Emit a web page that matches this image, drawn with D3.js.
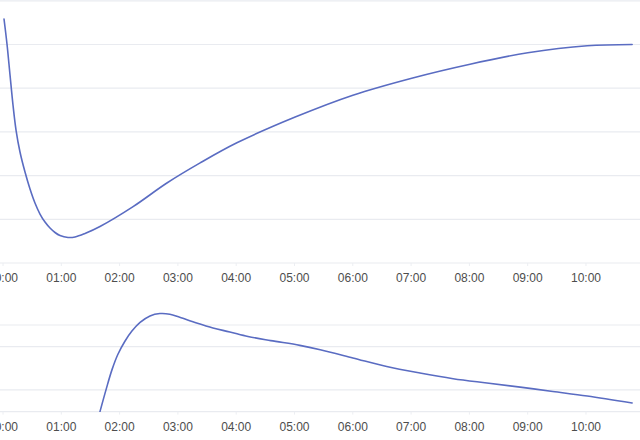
<!DOCTYPE html>
<html>
<head>
<meta charset="utf-8">
<script src="https://cdn.jsdelivr.net/npm/d3@7"></script>
<style>
html,body{margin:0;padding:0;background:#fff;overflow:hidden;}
svg{display:block;}
</style>
</head>
<body>
<svg id="chart" width="640" height="440"></svg>
<script>
// time in hours since 00:00
const hourTicks = [0,1,2,3,4,5,6,7,8,9,10];
const hourLabels = ["00:00","01:00","02:00","03:00","04:00","05:00","06:00","07:00","08:00","09:00","10:00"];

// top series
const topTimes  = [0.026,0.077,0.129,0.180,0.232,0.300,0.386,0.472,0.557,0.643,0.729,0.815,0.901,0.986,1.124,1.244,1.415,1.672,2.24,2.82,3.39,4.02,5.02,6.01,7.02,8.02,9.01,10.03,10.80];
const topValues = [5.584,5.011,4.302,3.616,3.043,2.540,2.082,1.693,1.373,1.121,0.938,0.801,0.698,0.629,0.584,0.595,0.675,0.835,1.29,1.83,2.29,2.75,3.34,3.84,4.23,4.55,4.81,4.97,5.00];
const topGrid = [0,1,2,3,4,5,6];

// bottom series
const botTimes  = [1.672,1.78,1.88,1.98,2.10,2.22,2.36,2.53,2.70,2.87,3.04,3.33,3.61,3.90,4.21,4.60,5.10,5.45,6.01,6.59,7.16,7.73,8.31,8.88,9.44,10.03,10.80];
const botValues = [0,1.05,1.95,2.65,3.25,3.72,4.12,4.42,4.53,4.50,4.36,4.09,3.86,3.68,3.47,3.28,3.06,2.86,2.48,2.08,1.78,1.52,1.32,1.13,0.93,0.72,0.40];
const botGrid = [0,1,3,4];

const svg = d3.select("#chart");
const W = 640;
const lineColor = "#5a6cc2";
const gridColor = "#e9ebf0";
const textColor = "#4d4d4d";

const x = d3.scaleLinear().domain([0, 10.935]).range([2.5, W]);

function panel(times, values, grid, yScale, clipId, clipTop, clipBottom) {
  const g = svg.append("g");
  g.selectAll("line.grid").data(grid).enter().append("line")
    .attr("x1", 0).attr("x2", W)
    .attr("y1", d => yScale(d)).attr("y2", d => yScale(d))
    .attr("stroke", gridColor).attr("stroke-width", 1.2);
  const axis = d3.axisBottom(x).tickValues(hourTicks)
    .tickFormat((d,i) => hourLabels[i]).tickSize(3).tickPadding(7.5);
  const ag = g.append("g").attr("transform", `translate(0,${yScale(0)})`).call(axis);
  ag.select(".domain").remove();
  ag.selectAll(".tick line").attr("stroke", "#eceef2");
  ag.selectAll(".tick text").attr("fill", textColor)
    .style("font-family", "'Liberation Sans', Arial, sans-serif").style("font-size", "12px");
  svg.append("clipPath").attr("id", clipId).append("rect")
    .attr("x", 0).attr("y", clipTop).attr("width", W).attr("height", clipBottom - clipTop);
  const data = times.map((t,i) => ({t, v: values[i]}));
  const line = d3.line().x(d => x(d.t)).y(d => yScale(d.v)).curve(d3.curveCatmullRom.alpha(0.5));
  g.append("path").datum(data)
    .attr("clip-path", `url(#${clipId})`)
    .attr("d", line).attr("fill", "none")
    .attr("stroke", lineColor).attr("stroke-width", 1.6)
    .attr("stroke-linejoin", "round").attr("stroke-linecap", "round");
}

const yTop = d3.scaleLinear().domain([0, 6]).range([263, 0.8]);
const yBot = d3.scaleLinear().domain([0, 4]).range([411.6, 325]);

panel(topTimes, topValues, topGrid, yTop, "clipTop", 0, 264);
panel(botTimes, botValues, botGrid, yBot, "clipBot", 295, 412);
</script>
</body>
</html>
